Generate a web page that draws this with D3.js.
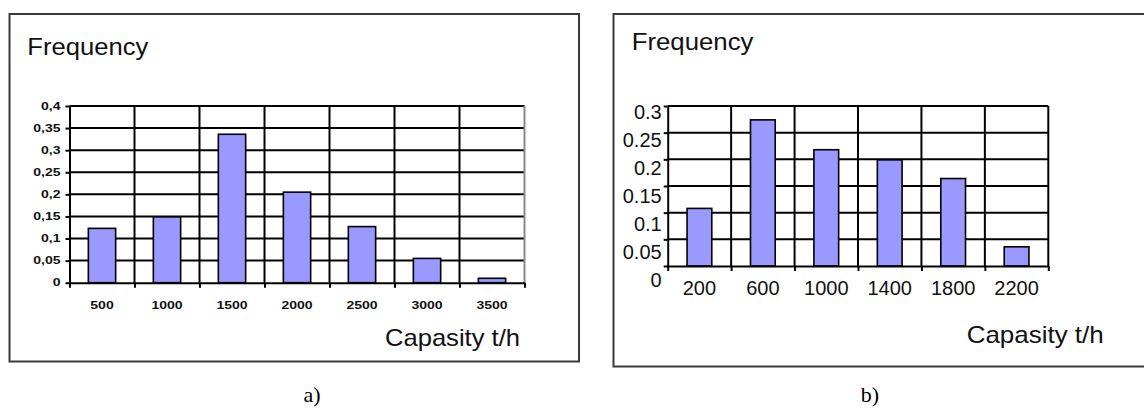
<!DOCTYPE html>
<html><head><meta charset="utf-8">
<script src="https://cdn.jsdelivr.net/npm/d3@7/dist/d3.min.js"></script>
<style>body{margin:0;background:#fff}svg{display:block}</style>
</head><body>
<svg id="c" width="1144" height="408"></svg>
<script>
// ---- data ----
const catsA = ["500","1000","1500","2000","2500","3000","3500"];
const valsA = [0.123, 0.149, 0.336, 0.205, 0.127, 0.055, 0.010];
const ticksA = [0,0.05,0.1,0.15,0.2,0.25,0.3,0.35,0.4];
const tickLabelsA = ["0","0,05","0,1","0,15","0,2","0,25","0,3","0,35","0,4"];

const catsB = ["200","600","1000","1400","1800","2200"];
const valsB = [0.108, 0.274, 0.218, 0.199, 0.164, 0.036];
const ticksB = [0,0.05,0.1,0.15,0.2,0.25,0.3];
const tickLabelsB = ["0","0.05","0.1","0.15","0.2","0.25","0.3"];

const titleText = "Frequency";
const xTitleText = "Capasity t/h";
const captions = ["a)","b)"];

const svg = d3.select("#c");
const FONT = "'Liberation Sans', Arial, sans-serif";

function stretch(sel, f){
  sel.each(function(){ const w=this.getComputedTextLength(); d3.select(this).attr("textLength", w*f).attr("lengthAdjust","spacingAndGlyphs"); });
}

function chart(cfg){
  const g = svg.append("g");
  // frame
  g.append("rect").attr("x",cfg.frame[0]).attr("y",cfg.frame[1]).attr("width",cfg.frame[2]-cfg.frame[0]).attr("height",cfg.frame[3]-cfg.frame[1])
    .attr("fill","#fff").attr("stroke","#3a3a3a").attr("stroke-width",2);
  const x = d3.scaleBand().domain(cfg.cats).range([cfg.left,cfg.right]).paddingInner(cfg.pad).paddingOuter(cfg.pad/2);
  const xb = d3.scaleLinear().domain([0,cfg.cats.length]).range([cfg.left,cfg.right]);
  const y = d3.scaleLinear().domain([0,cfg.ymax]).range([cfg.bottom,cfg.top]);
  // horizontal gridlines
  g.append("g").selectAll("line").data(cfg.ticks.filter(d=>d>0)).join("line")
    .attr("x1",cfg.left).attr("x2",cfg.right).attr("y1",d=>y(d)).attr("y2",d=>y(d))
    .attr("stroke","#000").attr("stroke-width",2);
  // vertical gridlines
  g.append("g").selectAll("line").data(d3.range(1,cfg.cats.length)).join("line")
    .attr("x1",d=>xb(d)).attr("x2",d=>xb(d)).attr("y1",cfg.top).attr("y2",cfg.bottom)
    .attr("stroke","#000").attr("stroke-width",2);
  // right border
  g.append("line").attr("x1",cfg.right).attr("x2",cfg.right).attr("y1",cfg.top).attr("y2",cfg.bottom)
    .attr("stroke",cfg.rightColor).attr("stroke-width",2);
  // bars
  g.append("g").selectAll("rect").data(cfg.vals).join("rect")
    .attr("x",(d,i)=>x(cfg.cats[i])).attr("width",x.bandwidth())
    .attr("y",d=>y(d)).attr("height",d=>y(0)-y(d))
    .attr("fill","#9999ff").attr("stroke","#000").attr("stroke-width",1.6);
  // y axis
  const ya = g.append("g").attr("transform",`translate(${cfg.left},0)`)
    .call(d3.axisLeft(y).tickValues(cfg.ticks).tickSize(4).tickSizeOuter(0).tickFormat(""));
  ya.selectAll("path,line").attr("stroke","#000").attr("stroke-width",2);
  // y labels
  const ly = d3.scaleLinear().domain([0,cfg.ymax]).range(cfg.labelRange);
  const yl = g.append("g").selectAll("text").data(cfg.ticks).join("text")
    .attr("x",cfg.left-cfg.ylabPad).attr("y",d=>ly(d)).attr("dy","0.35em")
    .attr("text-anchor","end").attr("font-family",FONT).attr("font-size",cfg.tickFont)
    .attr("font-weight",cfg.tickWeight).attr("fill","#111")
    .text((d,i)=>cfg.tickLabels[i]);
  if(cfg.tickStretch!==1) stretch(yl, cfg.tickStretch);
  // x axis ticks at boundaries
  const xa = g.append("g").attr("transform",`translate(0,${cfg.bottom})`)
    .call(d3.axisBottom(xb).tickValues(d3.range(cfg.cats.length+1)).tickSize(5).tickSizeOuter(0).tickFormat(""));
  xa.selectAll("path,line").attr("stroke","#000").attr("stroke-width",2);
  // x labels
  const xl = g.append("g").attr("transform",`translate(0,${cfg.bottom})`)
    .call(d3.axisBottom(x).tickSize(0).tickPadding(cfg.xlabPad));
  xl.select(".domain").remove();
  xl.selectAll("text").attr("font-family",FONT).attr("font-size",cfg.tickFont)
    .attr("font-weight",cfg.tickWeight).attr("fill","#111");
  if(cfg.tickStretch!==1) stretch(xl.selectAll("text"), cfg.tickStretch);
  // titles
  g.append("text").attr("x",cfg.title[0]).attr("y",cfg.title[1]).attr("font-family",FONT).attr("font-size",24)
    .attr("fill","#111").attr("textLength",cfg.title[2]).attr("lengthAdjust","spacingAndGlyphs").text(titleText);
  g.append("text").attr("x",cfg.xtitle[0]).attr("y",cfg.xtitle[1]).attr("font-family",FONT).attr("font-size",24)
    .attr("fill","#111").attr("textLength",cfg.xtitle[2]).attr("lengthAdjust","spacingAndGlyphs").text(xTitleText);
  svg.append("text").attr("x",cfg.caption[0]).attr("y",cfg.caption[1]).attr("text-anchor","middle")
    .attr("font-family","'Liberation Serif','Times New Roman',serif").attr("font-size",22).attr("fill","#000").text(cfg.caption[2]);
}

chart({
  frame:[9.5,14,579,361.5], left:69.5, right:524.5, top:106, bottom:282.7, ymax:0.4,
  cats:catsA, vals:valsA, ticks:ticksA, tickLabels:tickLabelsA, pad:0.58,
  rightColor:"#888", labelRange:[282.7,106.5], ylabPad:9, xlabPad:19,
  tickFont:10, tickWeight:"bold", tickStretch:1.4,
  title:[27.3,55,121], xtitle:[385,346,135], caption:[312,402,captions[0]]
});
chart({
  frame:[613.5,14,1150,366.5], left:667.7, right:1048.3, top:106, bottom:266, ymax:0.3,
  cats:catsB, vals:valsB, ticks:ticksB, tickLabels:tickLabelsB, pad:0.61,
  rightColor:"#000", labelRange:[280,111.7], ylabPad:6, xlabPad:15,
  tickFont:20, tickWeight:"normal", tickStretch:1,
  title:[631.7,50,121.7], xtitle:[966.7,343,137], caption:[870,402,captions[1]]
});
</script>
</body></html>
